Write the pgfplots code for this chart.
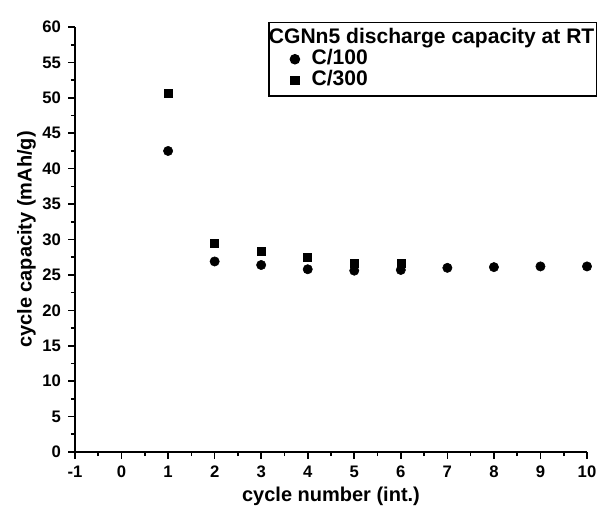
\documentclass[border=0pt]{standalone}
\usepackage{fontspec}
\setmainfont{Liberation Sans}
\usepackage{pgfplots}
\pgfplotsset{compat=1.18}
\begin{document}
\begin{tikzpicture}
\useasboundingbox (-56.25pt,-50.25pt) rectangle (396pt,339pt);
\begin{axis}[
  scale only axis,
  width=384pt, height=318.75pt,
  xmin=-1, xmax=10, ymin=0, ymax=60,
  axis x line*=bottom, axis y line*=left,
  axis line style={line width=1.3pt, -},
  xtick={-1,0,...,10}, ytick={0,5,...,60},
  minor x tick num=1, minor y tick num=1,
  tick align=outside,
  major tick length=5pt, minor tick length=3pt,
  every tick/.style={line width=1.2pt, black},
  /pgf/number format/assume math mode=true,
  tick label style={font=\bfseries\fontsize{12.5}{14}\selectfont},
  xticklabel style={yshift=-2pt},
  yticklabel style={xshift=-2pt},
  label style={font=\bfseries\fontsize{15}{18}\selectfont},
  xlabel={cycle number (int.)},
  ylabel={cycle capacity (mAh/g)},
  ylabel style={yshift=-2pt},
  clip=false,
  legend image code/.code={%
    \path[draw=none, fill=none] (-19pt,0pt) rectangle (11.5pt,0pt);
    \draw[#1] plot coordinates {(0pt,0pt)};},
  legend style={at={(1.0195,1.0118)}, anchor=north east, draw=black, line width=0.9pt,
    font=\bfseries\fontsize{15.8}{16}\selectfont, row sep=0pt,
    inner xsep=0.5pt, inner ysep=3.5pt,
    nodes={inner xsep=1pt, inner ysep=0.5pt, text height=11.5pt, text depth=3.5pt},
    column sep=0pt},
  legend cell align=left,
]
\addlegendimage{empty legend}
\addlegendentry{\hspace{-32pt}CGNn5 discharge capacity at RT}
\addplot[only marks, mark=*, mark size=3.5pt, black] coordinates {
(1,42.5) (2,26.9) (3,26.4) (4,25.8) (5,25.6) (6,25.7) (7,26.0) (8,26.1) (9,26.2) (10,26.2)
};
\addlegendentry{C/100}
\addplot[only marks, mark=square*, mark size=3pt, black] coordinates {
(1,50.7) (2,29.5) (3,28.4) (4,27.5) (5,26.7) (6,26.6)
};
\addlegendentry{C/300}
\end{axis}
\end{tikzpicture}
\end{document}
